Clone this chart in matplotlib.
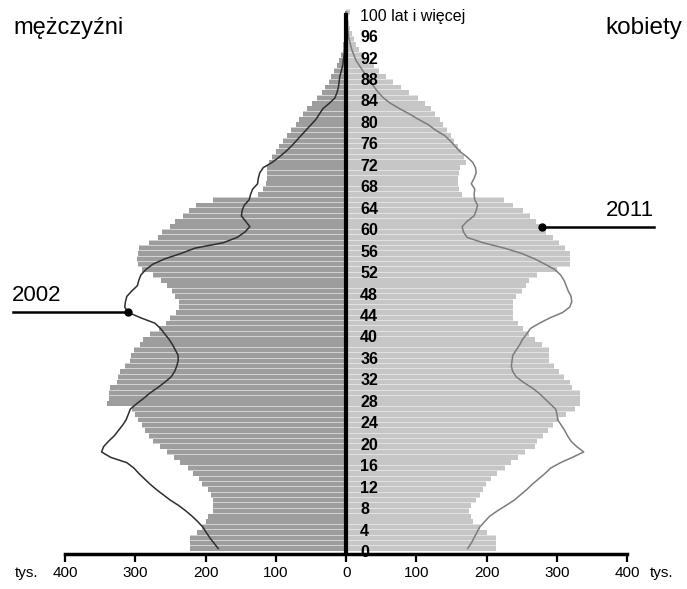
import numpy as np
import matplotlib
matplotlib.use("Agg")
import matplotlib.pyplot as plt

plt.rcParams['font.family'] = ['Liberation Sans', 'DejaVu Sans']

# ── data (tys. osób, wiek 0..100+) ─────────────────────────────────
ages = np.arange(101)

men_2011 = [
    222, 222, 222, 212, 205, 200, 197, 190, 190, 190,
    192, 197, 205, 210, 218, 225, 236, 245, 255, 265,
    275, 280, 286, 290, 296, 300, 304, 340, 338, 338,
    336, 326, 324, 322, 315, 308, 306, 302, 293, 289,
    279, 266, 256, 250, 242, 238, 238, 243, 248, 255,
    263, 275, 290, 296, 297, 296, 294, 280, 268, 262,
    250, 244, 232, 224, 213, 190, 125, 118, 114, 113,
    113, 112, 110, 106, 100, 95, 90, 84, 78, 72,
    67, 62, 55, 48, 42, 35, 30, 25, 21, 17,
    13, 10, 7, 5, 4, 3, 2, 1.5, 1, 0.7,
    0.8]

women_2011 = [
    213, 213, 213, 200, 190, 180, 177, 175, 177, 185,
    190, 194, 199, 206, 214, 226, 235, 245, 255, 268,
    272, 280, 287, 295, 303, 313, 325, 332, 332, 332,
    322, 318, 310, 303, 296, 289, 289, 289, 278, 268,
    260, 252, 244, 237, 237, 237, 237, 242, 250, 256,
    260, 272, 300, 318, 318, 318, 312, 303, 294, 285,
    278, 270, 262, 251, 238, 225, 165, 160, 159, 159,
    160, 162, 171, 168, 164, 159, 154, 149, 143, 138,
    133, 127, 121, 112, 102, 90, 78, 67, 57, 47,
    39, 30, 24, 18, 14, 11, 8, 6, 4, 3,
    5]

men_2002 = [
    182, 188, 194, 199, 204, 211, 219, 228, 238, 250,
    260, 270, 279, 287, 295, 302, 312, 335, 348, 345,
    338, 330, 324, 318, 313, 310, 307, 298, 288, 279,
    268, 258, 249, 244, 241, 239, 239, 243, 247, 252,
    258, 264, 272, 292, 310, 315, 314, 312, 305, 297,
    295, 292, 285, 275, 258, 235, 215, 175, 155, 144,
    137, 143, 149, 148, 145, 138, 136, 133, 126, 125,
    123, 118, 105, 95, 86, 78, 71, 64, 57, 50,
    43, 38, 33, 24, 16, 13, 11, 10, 9, 7,
    5, 4, 3, 2, 1.5, 1, 0.8, 0.5, 0.4, 0.3,
    0.3]

women_2002 = [
    173, 178, 182, 186, 190, 197, 204, 215, 227, 239,
    248, 257, 265, 274, 283, 291, 305, 322, 338, 328,
    320, 315, 311, 306, 301, 300, 298, 290, 282, 274,
    264, 252, 242, 237, 235, 236, 237, 242, 247, 251,
    257, 262, 275, 290, 308, 318, 321, 320, 316, 313,
    310, 305, 297, 283, 268, 250, 225, 195, 172, 167,
    165, 172, 182, 185, 187, 183, 182, 183, 178, 182,
    185, 184, 180, 172, 162, 155, 148, 140, 127, 117,
    103, 90, 76, 63, 53, 46, 40, 35, 30, 24,
    19, 14, 11, 8, 6, 4, 3, 2, 1.5, 1,
    1]

age_ticks = list(range(0, 100, 4)) + [100]
x_ticks = [-400, -300, -200, -100, 0, 100, 200, 300, 400]

MEN = '#9d9d9d'
WOMEN = '#c6c6c6'

# ── figure ─────────────────────────────────────────────────────────
fig = plt.figure(figsize=(6.87, 5.89), dpi=100)
ax = fig.add_axes([0.0946, 0.0528, 0.8185, 0.9335])

yc = ages + 0.75
# light backing so the gaps between yearly bars read as thin pale stripes
ax.barh(yc, -np.array(men_2011), height=1.0, color='#d2d2d2', linewidth=0)
ax.barh(yc, np.array(women_2011), height=1.0, color='#e2e2e2', linewidth=0)
ax.barh(yc, -np.array(men_2011), height=0.84, color=MEN, linewidth=0)
ax.barh(yc, np.array(women_2011), height=0.84, color=WOMEN, linewidth=0)
ax.plot(-np.array(men_2002), yc, color='#2e2e2e', lw=1.1)
ax.plot(np.array(women_2002), yc, color='#7c7c7c', lw=1.1)

ax.vlines(0, -0.25, 100.6, color='black', lw=3, clip_on=False, zorder=5)

ax.set_xlim(-400, 400)
ax.set_ylim(-1, 101.5)
for s in ['top', 'left', 'right']:
    ax.spines[s].set_visible(False)
ax.spines['bottom'].set_position(('data', -0.25))
ax.spines['bottom'].set_linewidth(2.5)
ax.set_yticks([])
ax.set_xticks(x_ticks)
ax.set_xticklabels([str(abs(v)) for v in x_ticks], fontsize=11)
ax.tick_params(axis='x', direction='out', length=6, width=1.6, pad=3)

ax.annotate('tys.', xy=(-400, -0.25), xytext=(-19, -9), textcoords='offset points',
            ha='right', va='top', fontsize=11, annotation_clip=False)
ax.annotate('tys.', xy=(400, -0.25), xytext=(16, -9), textcoords='offset points',
            ha='left', va='top', fontsize=11, annotation_clip=False)

# age labels next to the axis
for a in age_ticks:
    if a == 100:
        ax.text(20, a, '100 lat i więcej', fontsize=11.5, va='center', ha='left', zorder=6)
    else:
        ax.text(20, a, str(a), fontsize=11.5, fontweight='bold', va='center', ha='left', zorder=6)

# 2002 / 2011 markers
i02, i11 = 44, 60
x02, y02 = -men_2002[i02], yc[i02]
x11, y11 = women_2011[i11], yc[i11]
ax.plot([x02, -474], [y02, y02], color='black', lw=1.8, clip_on=False, zorder=7)
ax.plot([x02], [y02], 'o', color='black', ms=5, clip_on=False, zorder=7)
ax.annotate('2002', xy=(-476, y02), xytext=(0, 5), textcoords='offset points',
            ha='left', va='bottom', fontsize=16, annotation_clip=False)
ax.plot([x11, 438], [y11, y11], color='black', lw=1.8, clip_on=False, zorder=7)
ax.plot([x11], [y11], 'o', color='black', ms=5, clip_on=False, zorder=7)
ax.annotate('2011', xy=(438, y11), xytext=(0, 4), textcoords='offset points',
            ha='right', va='bottom', fontsize=16, annotation_clip=False)

fig.text(13 / 687, 1 - 34 / 589, 'mężczyźni', fontsize=17, ha='left', va='baseline')
fig.text(682 / 687, 1 - 34 / 589, 'kobiety', fontsize=17.5, ha='right', va='baseline')

fig.savefig('out.png', dpi=100)
